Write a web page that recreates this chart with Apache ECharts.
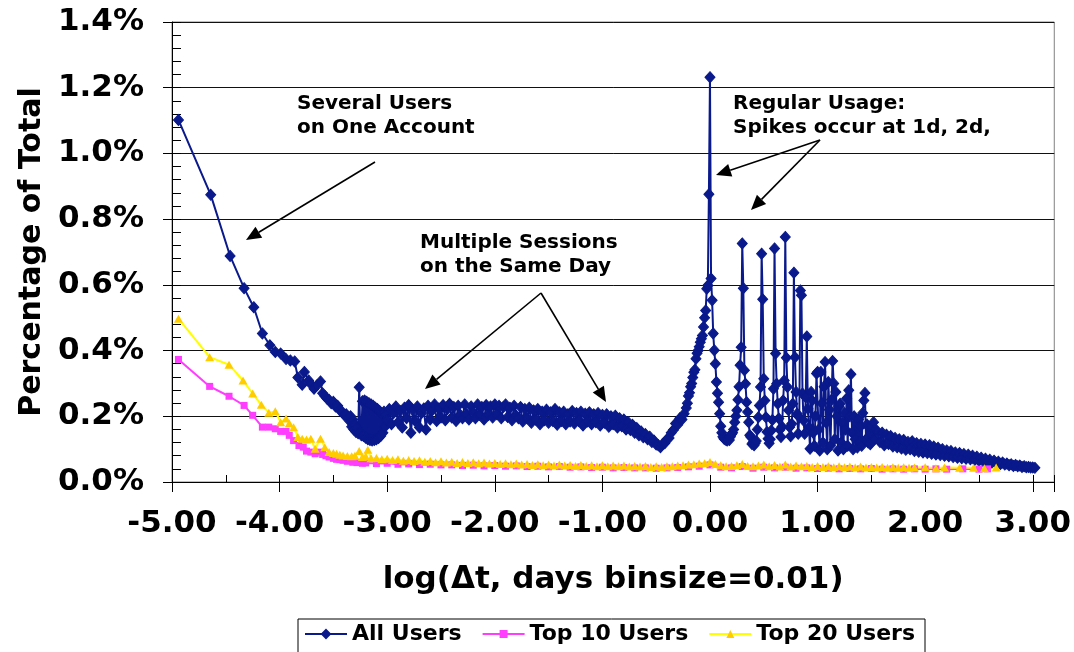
<!DOCTYPE html>
<html>
<head>
<meta charset="utf-8">
<script src="https://cdn.jsdelivr.net/npm/echarts@6/dist/echarts.min.js"></script>
<style>
html, body { margin: 0; padding: 0; background: #fff; }
#chart { width: 1074px; height: 652px; }
</style>
</head>
<body>
<div id="chart"></div>
<script>
// log10 of the gap in days, share of all gaps in percent
var allUsers = [
	[-4.94,1.102],[-4.64,0.874],[-4.46,0.688],[-4.33,0.590],[-4.24,0.532],[-4.16,0.452],[-4.09,0.416],[-4.04,0.396],
	[-3.99,0.391],[-3.94,0.374],[-3.90,0.370],[-3.86,0.367],[-3.83,0.318],[-3.79,0.296],[-3.77,0.335],[-3.73,0.309],
	[-3.71,0.298],[-3.68,0.284],[-3.65,0.295],[-3.62,0.306],[-3.60,0.270],[-3.58,0.262],[-3.56,0.254],[-3.54,0.250],
	[-3.52,0.240],[-3.50,0.244],[-3.48,0.230],[-3.46,0.232],[-3.44,0.218],[-3.42,0.214],[-3.40,0.204],[-3.38,0.206],
	[-3.36,0.196],[-3.35,0.186],[-3.34,0.200],[-3.33,0.168],[-3.32,0.190],[-3.31,0.160],[-3.30,0.176],[-3.29,0.152],
	[-3.28,0.164],[-3.27,0.148],[-3.26,0.288],[-3.25,0.150],
	[-3.24,0.142],[-3.23,0.246],[-3.22,0.140],[-3.21,0.248],[-3.20,0.135],[-3.19,0.244],[-3.18,0.130],[-3.17,0.240],
	[-3.16,0.128],[-3.15,0.236],[-3.14,0.126],[-3.13,0.232],[-3.12,0.128],[-3.11,0.226],[-3.10,0.130],[-3.09,0.222],
	[-3.08,0.134],[-3.07,0.216],[-3.06,0.140],[-3.05,0.210],[-3.04,0.150],[-3.03,0.214],[-3.02,0.168],[-3.01,0.205],
	[-3.00,0.188],[-2.98,0.222],[-2.96,0.176],[-2.94,0.210],[-2.92,0.230],[-2.90,0.182],[-2.88,0.216],[-2.86,0.166],
	[-2.84,0.226],[-2.82,0.194],[-2.80,0.234],[-2.78,0.150],[-2.76,0.218],[-2.74,0.186],[-2.72,0.230],[-2.70,0.166],
	[-2.68,0.210],[-2.66,0.224],[-2.64,0.160],[-2.62,0.232],[-2.60,0.190],[-2.58,0.218],[-2.56,0.236],[-2.54,0.186],
	[-2.52,0.224],[-2.50,0.196],[-2.48,0.234],[-2.46,0.188],[-2.44,0.222],[-2.42,0.238],[-2.40,0.196],[-2.38,0.228],
	[-2.36,0.186],[-2.34,0.232],[-2.32,0.204],[-2.30,0.194],[-2.28,0.236],[-2.26,0.206],[-2.24,0.190],[-2.22,0.230],
	[-2.20,0.212],[-2.18,0.194],[-2.16,0.236],[-2.14,0.204],[-2.12,0.228],[-2.10,0.190],[-2.08,0.234],[-2.06,0.204],
	[-2.04,0.230],[-2.02,0.196],[-2.00,0.236],[-1.98,0.206],[-1.96,0.232],[-1.94,0.194],[-1.92,0.228],[-1.90,0.236],
	[-1.88,0.198],[-1.86,0.226],[-1.84,0.188],[-1.82,0.232],[-1.80,0.202],[-1.78,0.194],[-1.76,0.228],[-1.74,0.184],
	[-1.72,0.222],[-1.70,0.194],[-1.68,0.226],[-1.66,0.180],[-1.64,0.218],[-1.62,0.190],[-1.60,0.222],[-1.58,0.176],
	[-1.56,0.214],[-1.54,0.188],[-1.52,0.220],[-1.50,0.180],[-1.48,0.212],[-1.46,0.186],[-1.44,0.222],[-1.42,0.174],
	[-1.40,0.212],[-1.38,0.186],[-1.36,0.214],[-1.34,0.176],[-1.32,0.206],[-1.30,0.184],[-1.28,0.216],[-1.26,0.178],
	[-1.24,0.210],[-1.22,0.186],[-1.20,0.214],[-1.18,0.172],[-1.16,0.208],[-1.14,0.184],[-1.12,0.212],[-1.10,0.176],
	[-1.08,0.206],[-1.06,0.182],[-1.04,0.210],[-1.02,0.172],[-1.00,0.204],[-0.98,0.180],[-0.96,0.206],[-0.94,0.168],
	[-0.92,0.200],[-0.90,0.176],[-0.88,0.202],[-0.86,0.166],[-0.84,0.194],[-0.82,0.170],[-0.80,0.190],[-0.78,0.160],
	[-0.76,0.182],[-0.74,0.158],[-0.72,0.174],[-0.70,0.150],[-0.68,0.164],[-0.66,0.142],[-0.64,0.154],[-0.62,0.136],
	[-0.60,0.146],[-0.58,0.130],[-0.56,0.138],[-0.54,0.122],[-0.52,0.126],[-0.50,0.114],[-0.48,0.112],[-0.46,0.106],
	[-0.44,0.116],[-0.42,0.118],[-0.40,0.130],[-0.38,0.134],[-0.36,0.150],[-0.34,0.158],[-0.32,0.178],[-0.30,0.174],
	[-0.28,0.194],[-0.26,0.190],[-0.24,0.208],[-0.22,0.225],[-0.21,0.240],[-0.20,0.262],[-0.19,0.272],[-0.18,0.290],
	[-0.17,0.300],[-0.16,0.318],[-0.15,0.334],[-0.14,0.342],[-0.13,0.375],[-0.12,0.392],[-0.11,0.400],[-0.10,0.412],
	[-0.09,0.425],[-0.08,0.436],[-0.07,0.446],[-0.06,0.472],[-0.05,0.500],[-0.04,0.522],[-0.03,0.588],[-0.02,0.598],
	[-0.01,0.876],[0.00,1.232],[0.01,0.619],[0.02,0.553],[0.03,0.452],[0.04,0.401],[0.05,0.360],[0.06,0.304],
	[0.07,0.270],[0.08,0.243],[0.09,0.208],[0.10,0.170],[0.11,0.150],[0.12,0.138],[0.13,0.132],[0.14,0.130],
	[0.15,0.128],[0.16,0.126],[0.17,0.132],[0.18,0.128],[0.19,0.138],[0.20,0.145],[0.21,0.150],[0.22,0.160],
	[0.23,0.182],[0.24,0.200],[0.25,0.218],[0.26,0.250],[0.27,0.290],[0.28,0.355],[0.29,0.410],[0.30,0.726],
	[0.31,0.590],[0.32,0.340],[0.33,0.299],[0.34,0.243],[0.35,0.213],[0.36,0.182],[0.37,0.142],[0.38,0.137],
	[0.39,0.116],[0.40,0.120],[0.41,0.112],[0.42,0.118],[0.43,0.125],[0.44,0.160],[0.45,0.197],[0.46,0.233],
	[0.47,0.289],[0.48,0.695],[0.49,0.556],[0.50,0.314],[0.51,0.248],[0.52,0.197],[0.53,0.152],[0.54,0.132],
	[0.55,0.118],[0.56,0.130],[0.57,0.157],[0.58,0.189],[0.59,0.284],[0.60,0.711],[0.61,0.391],[0.62,0.299],
	[0.63,0.238],[0.64,0.193],[0.65,0.159],[0.66,0.137],[0.67,0.168],[0.68,0.248],[0.69,0.309],[0.70,0.746],
	[0.71,0.378],[0.72,0.289],[0.73,0.218],[0.74,0.167],[0.75,0.139],[0.76,0.177],[0.77,0.238],[0.78,0.637],
	[0.79,0.380],[0.80,0.274],[0.81,0.208],[0.82,0.147],[0.83,0.197],[0.84,0.583],[0.85,0.568],[0.86,0.269],
	[0.87,0.187],[0.88,0.147],[0.89,0.258],[0.90,0.443],[0.91,0.223],[0.92,0.167],[0.93,0.101],[0.94,0.274],
	[0.95,0.248],[0.96,0.150],[0.97,0.110],[0.98,0.200],[0.99,0.330],[1.00,0.335],[1.01,0.160],[1.02,0.096],
	[1.03,0.335],[1.04,0.240],[1.05,0.120],[1.06,0.290],[1.07,0.365],[1.08,0.180],[1.09,0.100],[1.10,0.304],
	[1.11,0.220],[1.12,0.110],[1.13,0.250],[1.14,0.368],[1.15,0.300],[1.16,0.130],[1.17,0.274],[1.18,0.200],
	[1.19,0.096],[1.20,0.230],[1.21,0.238],[1.22,0.120],[1.23,0.180],[1.24,0.100],[1.25,0.210],[1.26,0.160],
	[1.27,0.254],[1.28,0.110],[1.29,0.279],[1.30,0.200],[1.31,0.328],[1.32,0.150],[1.33,0.100],[1.34,0.200],
	[1.35,0.130],[1.36,0.180],[1.37,0.105],[1.38,0.190],[1.39,0.120],[1.40,0.170],[1.41,0.110],[1.42,0.210],
	[1.43,0.248],[1.44,0.271],[1.45,0.130],[1.46,0.175],[1.47,0.120],[1.48,0.165],[1.49,0.115],[1.50,0.170],
	[1.51,0.125],[1.52,0.182],[1.53,0.130],[1.54,0.160],[1.56,0.152],[1.58,0.122],[1.60,0.150],[1.62,0.112],
	[1.64,0.144],[1.66,0.116],[1.68,0.140],[1.70,0.108],[1.72,0.134],[1.74,0.106],[1.76,0.130],[1.78,0.102],
	[1.80,0.128],[1.82,0.098],[1.84,0.122],[1.86,0.100],[1.88,0.124],[1.90,0.094],[1.92,0.118],[1.94,0.092],
	[1.96,0.116],[1.98,0.090],[2.00,0.114],[2.02,0.088],[2.04,0.112],[2.06,0.086],[2.08,0.108],[2.10,0.084],
	[2.12,0.104],[2.14,0.082],[2.16,0.100],[2.18,0.080],[2.20,0.096],[2.22,0.078],[2.24,0.094],[2.26,0.076],
	[2.28,0.090],[2.30,0.074],[2.32,0.088],[2.34,0.072],[2.36,0.085],[2.38,0.071],[2.40,0.083],[2.42,0.069],
	[2.44,0.080],[2.46,0.067],[2.48,0.077],[2.50,0.065],[2.52,0.074],[2.54,0.063],[2.56,0.071],[2.58,0.061],
	[2.60,0.068],[2.62,0.059],[2.64,0.065],[2.66,0.057],[2.68,0.062],[2.70,0.055],[2.72,0.059],[2.74,0.053],
	[2.76,0.056],[2.78,0.051],[2.80,0.054],[2.82,0.049],[2.84,0.052],[2.86,0.048],[2.88,0.050],[2.90,0.046],
	[2.92,0.048],[2.94,0.045],[2.96,0.046],[2.98,0.044],[3.00,0.044],[3.02,0.043]
];
var top10Users = [
	[-4.94,0.373],[-4.65,0.291],[-4.47,0.261],[-4.33,0.233],[-4.25,0.203],[-4.16,0.167],[-4.10,0.167],[-4.04,0.162],
	[-3.99,0.154],[-3.94,0.154],[-3.91,0.142],[-3.87,0.126],[-3.82,0.111],[-3.78,0.106],[-3.75,0.094],[-3.71,0.091],
	[-3.67,0.086],[-3.63,0.091],[-3.60,0.084],[-3.57,0.080],[-3.54,0.076],[-3.50,0.072],[-3.47,0.069],[-3.44,0.068],
	[-3.41,0.066],[-3.37,0.063],[-3.32,0.060],[-3.28,0.059],[-3.23,0.057],[-3.20,0.058],[-3.10,0.056],[-3.00,0.057],
	[-2.90,0.054],[-2.80,0.055],[-2.70,0.053],[-2.60,0.054],[-2.50,0.052],[-2.40,0.052],[-2.30,0.050],[-2.20,0.051],
	[-2.10,0.049],[-2.00,0.050],[-1.90,0.048],[-1.80,0.049],[-1.70,0.047],[-1.60,0.048],[-1.50,0.046],[-1.40,0.047],
	[-1.30,0.045],[-1.20,0.046],[-1.10,0.044],[-1.00,0.045],[-0.90,0.043],[-0.80,0.044],[-0.70,0.043],[-0.60,0.043],
	[-0.50,0.042],[-0.40,0.043],[-0.30,0.044],[-0.20,0.046],[-0.10,0.048],[0.00,0.052],[0.10,0.045],[0.20,0.043],
	[0.30,0.047],[0.40,0.042],[0.50,0.045],[0.60,0.043],[0.70,0.045],[0.80,0.042],[0.90,0.043],[1.00,0.041],
	[1.10,0.042],[1.20,0.040],[1.30,0.041],[1.40,0.040],[1.50,0.041],[1.60,0.039],[1.70,0.040],[1.80,0.039],
	[1.90,0.040],[2.00,0.039],[2.10,0.040],[2.20,0.039],[2.35,0.040],[2.50,0.039],[2.58,0.040]
];
var top20Users = [
	[-4.94,0.497],[-4.65,0.380],[-4.47,0.357],[-4.34,0.309],[-4.25,0.269],[-4.17,0.235],[-4.10,0.211],[-4.04,0.215],
	[-3.99,0.182],[-3.94,0.193],[-3.91,0.179],[-3.87,0.167],[-3.83,0.137],[-3.79,0.132],[-3.75,0.129],[-3.71,0.132],
	[-3.67,0.101],[-3.62,0.132],[-3.58,0.106],[-3.54,0.091],[-3.50,0.088],[-3.47,0.086],[-3.44,0.083],[-3.41,0.081],
	[-3.37,0.079],[-3.33,0.078],[-3.30,0.080],[-3.26,0.094],[-3.23,0.076],[-3.20,0.078],[-3.18,0.098],[-3.15,0.072],
	[-3.10,0.073],[-3.05,0.069],[-3.00,0.071],[-2.95,0.067],[-2.90,0.069],[-2.85,0.065],[-2.80,0.067],[-2.75,0.064],
	[-2.70,0.066],[-2.65,0.062],[-2.60,0.064],[-2.55,0.060],[-2.50,0.063],[-2.45,0.059],[-2.40,0.062],[-2.35,0.058],
	[-2.30,0.061],[-2.25,0.058],[-2.20,0.060],[-2.15,0.057],[-2.10,0.059],[-2.05,0.056],[-2.00,0.058],[-1.95,0.055],
	[-1.90,0.057],[-1.85,0.054],[-1.80,0.056],[-1.75,0.053],[-1.70,0.055],[-1.65,0.052],[-1.60,0.054],[-1.55,0.051],
	[-1.50,0.053],[-1.45,0.050],[-1.40,0.053],[-1.35,0.050],[-1.30,0.052],[-1.25,0.049],[-1.20,0.052],[-1.15,0.049],
	[-1.10,0.051],[-1.05,0.048],[-1.00,0.051],[-0.95,0.048],[-0.90,0.050],[-0.85,0.048],[-0.80,0.050],[-0.75,0.047],
	[-0.70,0.049],[-0.65,0.047],[-0.60,0.049],[-0.55,0.046],[-0.50,0.048],[-0.45,0.046],[-0.40,0.048],[-0.35,0.048],
	[-0.30,0.050],[-0.25,0.051],[-0.20,0.053],[-0.15,0.054],[-0.10,0.056],[-0.05,0.057],[0.00,0.061],[0.05,0.055],
	[0.10,0.051],[0.15,0.048],[0.20,0.049],[0.25,0.051],[0.30,0.055],[0.35,0.049],[0.40,0.048],[0.45,0.050],
	[0.50,0.053],[0.55,0.048],[0.60,0.052],[0.65,0.047],[0.70,0.053],[0.75,0.047],[0.80,0.050],[0.85,0.048],
	[0.90,0.049],[0.95,0.046],[1.00,0.049],[1.05,0.046],[1.10,0.048],[1.15,0.045],[1.20,0.048],[1.25,0.045],
	[1.30,0.047],[1.35,0.044],[1.40,0.047],[1.45,0.044],[1.50,0.046],[1.55,0.044],[1.60,0.046],[1.65,0.043],
	[1.70,0.045],[1.75,0.043],[1.80,0.045],[1.85,0.043],[1.90,0.044],[2.00,0.045],[2.10,0.042],[2.18,0.044],
	[2.32,0.043],[2.45,0.043],[2.55,0.042],[2.66,0.044]
];
var seriesNames = ['All Users', 'Top 10 Users', 'Top 20 Users'];

var FONT = 'DejaVu Sans';

function arrow(x1, y1, x2, y2) {
	var dx = x2 - x1, dy = y2 - y1;
	var len = Math.sqrt(dx * dx + dy * dy);
	var ux = dx / len, uy = dy / len;
	var hl = 15, hw = 6.5;
	var bx = x2 - ux * hl, by = y2 - uy * hl;
	return [
		{ type: 'line', shape: { x1: x1, y1: y1, x2: bx, y2: by }, style: { stroke: '#000', lineWidth: 1.6 } },
		{ type: 'polygon', shape: { points: [[x2, y2], [bx - uy * hw, by + ux * hw], [bx + uy * hw, by - ux * hw]] }, style: { fill: '#000' } }
	];
}

function note(x, y, text) {
	return { type: 'text', left: x, top: y, style: { text: text, fill: '#000', font: 'bold 20px "' + FONT + '"', lineHeight: 24 } };
}

var graphics = [
	note(297, 92, 'Several Users\non One Account'),
	note(420, 231, 'Multiple Sessions\non the Same Day'),
	note(733, 92, 'Regular Usage:\nSpikes occur at 1d, 2d,')
]
	.concat(arrow(375, 162, 246, 240))
	.concat(arrow(541, 293, 425, 389))
	.concat(arrow(541, 293, 606, 402))
	.concat(arrow(820, 140, 716, 175))
	.concat(arrow(820, 140, 751, 210));

var chart = echarts.init(document.getElementById('chart'));
var option = {
	animation: false,
	backgroundColor: '#fff',
	grid: { left: 172, right: 17, top: 22, bottom: 170, show: true, borderColor: '#808080', borderWidth: 1 },
	xAxis: [
		{
			type: 'value', min: -5, max: 3.2, interval: 1, position: 'bottom',
			axisLine: { onZero: false, lineStyle: { color: '#000', width: 1 } },
			axisTick: { inside: false, length: 10, lineStyle: { color: '#000' } },
			splitLine: { show: false },
			axisLabel: {
				margin: 26, color: '#000', fontFamily: FONT, fontWeight: 'bold', fontSize: 31,
				formatter: function (v) { return Math.abs(v - Math.round(v)) < 1e-6 ? v.toFixed(2) : ''; }
			},
			name: 'log(Δt, days binsize=0.01)', nameLocation: 'middle', nameGap: 82,
			nameTextStyle: { color: '#000', fontFamily: FONT, fontWeight: 'bold', fontSize: 31 }
		},
		{
			type: 'value', min: -5, max: 3.2, interval: 0.5, position: 'bottom',
			axisLine: { show: false, onZero: false },
			axisTick: { inside: true, length: 7, lineStyle: { color: '#000' } },
			axisLabel: { show: false },
			splitLine: { show: false }
		}
	],
	yAxis: [
		{
			type: 'value', min: 0, max: 1.4, interval: 0.2, position: 'left',
			axisLine: { show: true, onZero: false, lineStyle: { color: '#000', width: 1 } },
			axisTick: { show: true, inside: false, length: 9, lineStyle: { color: '#000' } },
			splitLine: { show: true, lineStyle: { color: '#111', width: 1 } },
			axisLabel: {
				margin: 28, color: '#000', fontFamily: FONT, fontWeight: 'bold', fontSize: 31,
				formatter: function (v) { return v.toFixed(1) + '%'; }
			},
			name: 'Percentage of Total', nameLocation: 'middle', nameGap: 120,
			nameTextStyle: { color: '#000', fontFamily: FONT, fontWeight: 'bold', fontSize: 30 }
		},
		{
			type: 'value', min: 0, max: 1.4, interval: 0.2, position: 'left',
			axisLine: { show: false, onZero: false },
			axisTick: { show: true, inside: true, length: 9, lineStyle: { color: '#000' } },
			minorTick: { show: true, splitNumber: 5, length: 9, lineStyle: { color: '#000' } },
			axisLabel: { show: false },
			splitLine: { show: false }
		}
	],
	legend: {
		data: seriesNames,
		left: 298, top: 619,
		itemWidth: 42, itemHeight: 10, itemGap: 20,
		padding: [4, 10, 14, 6],
		borderColor: '#000', borderWidth: 1,
		textStyle: { color: '#000', fontFamily: FONT, fontWeight: 'bold', fontSize: 22 }
	},
	series: [
		{
			name: seriesNames[0], type: 'line', data: allUsers, showAllSymbol: true,
			symbol: 'diamond', symbolSize: [10, 11],
			itemStyle: { color: '#0a1a8c', borderColor: '#0a1a8c', borderWidth: 1 },
			lineStyle: { color: '#0a1a8c', width: 2 }
		},
		{
			name: seriesNames[1], type: 'line', data: top10Users, showAllSymbol: true,
			symbol: 'rect', symbolSize: 7,
			itemStyle: { color: '#ff3dff' }, lineStyle: { color: '#ff3dff', width: 2 }
		},
		{
			name: seriesNames[2], type: 'line', data: top20Users, showAllSymbol: true,
			symbol: 'triangle', symbolSize: [9, 8],
			itemStyle: { color: '#ffcc00' }, lineStyle: { color: '#ffff00', width: 2 }
		}
	],
	graphic: graphics
};
chart.setOption(option);
</script>
</body>
</html>
